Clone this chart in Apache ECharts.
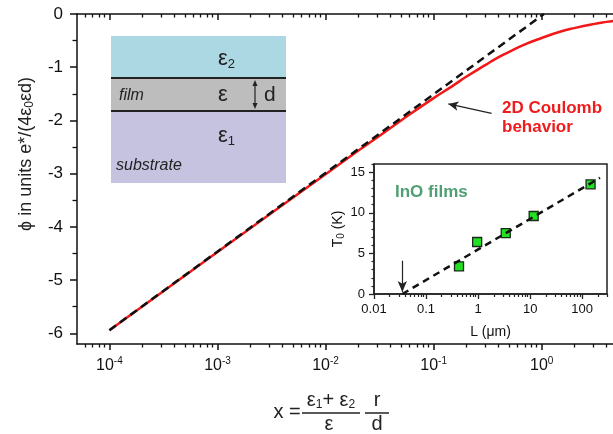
<!DOCTYPE html>
<html><head><meta charset="utf-8">
<script src="https://cdn.jsdelivr.net/npm/echarts@6/dist/echarts.min.js"></script>
<style>html,body{margin:0;padding:0;background:#fff}#c{width:613px;height:434px}</style>
</head><body><div id="c"></div>
<script>
// ---- main chart data ----
const xRed = [1e-4, 1e-3, 1e-2, 0.02, 0.03, 0.05, 0.1, 0.15, 0.2, 0.3, 0.4, 0.5, 0.7, 1, 1.5, 2, 3, 4, 5];
const phiRed = [-5.94, -4.47, -3.01, -2.57, -2.32, -2.00, -1.58, -1.35, -1.18, -0.96, -0.81, -0.71, -0.57, -0.45, -0.33, -0.265, -0.19, -0.148, -0.12];
const xDash = [1e-4, 1.05];
const phiDash = [-5.94, 0];
const mainXTickExps = [-4, -3, -2, -1, 0];
const mainYTicks = [-6, -5, -4, -3, -2, -1, 0];
const mainYMinor = [-5.5, -4.5, -3.5, -2.5, -1.5, -0.5];
// ---- inset data ----
const insetL = [0.43, 0.96, 3.4, 11.7, 145];
const insetT = [3.4, 6.4, 7.5, 9.6, 13.5];
const fitL = [0.035, 220];
const fitT = [0, 14.3];
const insetXTickExps = [-2, -1, 0, 1, 2];
const insetXTickLabels = ['0.01', '0.1', '1', '10', '100'];
const insetYTicks = [0, 5, 10, 15];
const insetYMinor = [1, 2, 3, 4, 6, 7, 8, 9, 11, 12, 13, 14, 16];

const L10 = Math.log10;
function logMinor(lo, hi) {
  const out = [];
  for (let d = Math.floor(lo); d <= Math.ceil(hi); d++) {
    for (let m = 2; m <= 9; m++) {
      const v = d + L10(m);
      if (v >= lo && v <= hi) out.push(v);
    }
  }
  return out;
}
const FONT = 'Liberation Sans, Arial, sans-serif';
const MX = [-4.3, 0.66];
const IX = [-2, L10(300)];

const chart = echarts.init(document.getElementById('c'), null, {renderer: 'canvas'});

function hiddenAxis(extra) {
  return Object.assign({
    type: 'value', axisLine: {show: false, onZero: false}, axisLabel: {show: false},
    splitLine: {show: false}
  }, extra);
}

const option = {
  animation: false,
  backgroundColor: '#fff',
  grid: [
    {left: 77, top: 14, right: 0, bottom: 90, show: false},
    {left: 374, top: 164, right: 6, bottom: 140, show: true, backgroundColor: '#fff', borderColor: '#222', borderWidth: 1.5}
  ],
  xAxis: [
    {type: 'value', gridIndex: 0, position: 'bottom', min: MX[0], max: MX[1],
     axisLine: {onZero: false, lineStyle: {color: '#111', width: 1.5}},
     axisTick: {customValues: mainXTickExps, length: 6, lineStyle: {color: '#111', width: 1.5}},
     axisLabel: {customValues: mainXTickExps, margin: 12, color: '#111', fontFamily: FONT,
       formatter: v => '{b|10}{s|' + Math.round(v) + '}',
       rich: {b: {fontSize: 16, fontFamily: FONT, color: '#111'},
              s: {fontSize: 10, fontFamily: FONT, color: '#111', padding: [0, 0, 10, 0]}}},
     splitLine: {show: false}},
    hiddenAxis({gridIndex: 0, position: 'bottom', min: MX[0], max: MX[1],
     axisTick: {customValues: logMinor(MX[0], MX[1]), length: 3.5, lineStyle: {color: '#111', width: 1.3}}}),
    {type: 'value', gridIndex: 0, position: 'top', min: MX[0], max: MX[1],
     axisLine: {onZero: false, lineStyle: {color: '#111', width: 1.5}},
     axisTick: {inside: true, customValues: mainXTickExps, length: 6, lineStyle: {color: '#111', width: 1.5}},
     axisLabel: {show: false}, splitLine: {show: false}},
    hiddenAxis({gridIndex: 0, position: 'top', min: MX[0], max: MX[1],
     axisTick: {inside: true, customValues: logMinor(MX[0], MX[1]), length: 3.5, lineStyle: {color: '#111', width: 1.3}}}),
    // inset
    {type: 'value', gridIndex: 1, position: 'bottom', min: IX[0], max: IX[1],
     axisLine: {onZero: false, lineStyle: {color: '#222', width: 1.5}},
     axisTick: {customValues: insetXTickExps, length: 5, lineStyle: {color: '#222', width: 1.3}},
     axisLabel: {customValues: insetXTickExps, margin: 9, color: '#111', fontSize: 13, fontFamily: FONT,
       formatter: v => insetXTickLabels[insetXTickExps.indexOf(Math.round(v))]},
     name: 'L (μm)', nameLocation: 'middle', nameGap: 31,
     nameTextStyle: {fontSize: 14, fontFamily: FONT, color: '#111'},
     splitLine: {show: false}},
    hiddenAxis({gridIndex: 1, position: 'bottom', min: IX[0], max: IX[1],
     axisTick: {customValues: logMinor(IX[0], IX[1]), length: 3, lineStyle: {color: '#222', width: 1.2}}})
  ],
  yAxis: [
    {type: 'value', gridIndex: 0, position: 'left', min: -6.2, max: 0,
     axisLine: {show: true, onZero: false, lineStyle: {color: '#111', width: 1.5}},
     axisTick: {show: true, customValues: mainYTicks, length: 7, lineStyle: {color: '#111', width: 1.5}},
     axisLabel: {customValues: mainYTicks, margin: 14, fontSize: 17, color: '#111', fontFamily: FONT},
     splitLine: {show: false}},
    hiddenAxis({gridIndex: 0, position: 'left', min: -6.2, max: 0,
     axisTick: {show: true, customValues: mainYMinor, length: 4.5, lineStyle: {color: '#111', width: 1.3}}}),
    {type: 'value', gridIndex: 1, position: 'left', min: 0, max: 16,
     axisLine: {show: true, onZero: false, lineStyle: {color: '#222', width: 1.5}},
     axisTick: {show: true, customValues: insetYTicks, length: 5, lineStyle: {color: '#222', width: 1.3}},
     axisLabel: {customValues: insetYTicks, margin: 9, fontSize: 13, color: '#111', fontFamily: FONT},
     name: '{a|T}{s|0}{a| (K)}', nameLocation: 'middle', nameGap: 21, nameRotate: 90,
     nameTextStyle: {rich: {a: {fontSize: 14, fontFamily: FONT, color: '#111'},
                            s: {fontSize: 10, fontFamily: FONT, color: '#111', padding: [6, 0, 0, 0]}}},
     splitLine: {show: false}},
    hiddenAxis({gridIndex: 1, position: 'left', min: 0, max: 16,
     axisTick: {show: true, customValues: insetYMinor, length: 2.5, lineStyle: {color: '#222', width: 1.2}}})
  ],
  series: [
    {type: 'line', xAxisIndex: 0, yAxisIndex: 0, smooth: true, showSymbol: false, clip: true,
     data: xRed.map((x, i) => [L10(x), phiRed[i]]),
     lineStyle: {color: '#f21818', width: 2.5}, z: 2,
     markLine: {silent: true, symbol: ['none', 'arrow'], symbolSize: [7, 10], animation: false,
       label: {show: false}, lineStyle: {color: '#222', width: 1.2, type: 'solid'},
       data: [[{coord: [L10(0.344), -1.867]}, {coord: [L10(0.137), -1.69]}]]}},
    {type: 'line', xAxisIndex: 0, yAxisIndex: 0, showSymbol: false, clip: true,
     data: xDash.map((x, i) => [L10(x), phiDash[i]]),
     lineStyle: {color: '#111', width: 2.5, type: [8, 5]}, z: 3},
    {type: 'scatter', xAxisIndex: 4, yAxisIndex: 2, symbol: 'rect', symbolSize: 9,
     data: insetL.map((x, i) => [L10(x), insetT[i]]),
     itemStyle: {color: '#22e022', borderColor: '#1a2a1a', borderWidth: 1.3, opacity: 1}, z: 4},
    {type: 'line', xAxisIndex: 4, yAxisIndex: 2, showSymbol: false,
     data: fitL.map((x, i) => [L10(x), fitT[i]]),
     lineStyle: {color: '#111', width: 2.5, type: [7, 5]}, z: 5,
     markLine: {silent: true, symbol: ['none', 'arrow'], symbolSize: [7, 11], animation: false,
       label: {show: false}, lineStyle: {color: '#222', width: 1.2, type: 'solid'},
       data: [[{coord: [L10(0.035), 4.1]}, {coord: [L10(0.035), 0.25]}]]}}
  ],
  graphic: [
    // layered-film diagram
    {type: 'rect', shape: {x: 111, y: 36, width: 175, height: 42}, style: {fill: '#acd8e4'}, z: 1},
    {type: 'rect', shape: {x: 111, y: 78, width: 175, height: 33}, style: {fill: '#bdbdbd'}, z: 1},
    {type: 'rect', shape: {x: 111, y: 111, width: 175, height: 72}, style: {fill: '#c6c3e1'}, z: 1},
    {type: 'line', shape: {x1: 111, y1: 78, x2: 286, y2: 78}, style: {stroke: '#222', lineWidth: 2}, z: 2},
    {type: 'line', shape: {x1: 111, y1: 111, x2: 286, y2: 111}, style: {stroke: '#222', lineWidth: 2}, z: 2},
    {type: 'line', shape: {x1: 255, y1: 83, x2: 255, y2: 106}, style: {stroke: '#222', lineWidth: 1.2}, z: 2},
    {type: 'polygon', shape: {points: [[255, 80], [252.5, 86], [257.5, 86]]}, style: {fill: '#222'}, z: 2},
    {type: 'polygon', shape: {points: [[255, 109], [252.5, 103], [257.5, 103]]}, style: {fill: '#222'}, z: 2},
    {type: 'text', x: 218, y: 59, z: 3, style: {text: '{e|ε}{s|2}', verticalAlign: 'middle',
      rich: {e: {fontSize: 22, fontFamily: FONT, fill: '#222'}, s: {fontSize: 13, fontFamily: FONT, fill: '#222', padding: [10, 0, 0, 0]}}}},
    {type: 'text', x: 218, y: 95, z: 3, style: {text: 'ε', fontSize: 22, fontFamily: FONT, fill: '#222', verticalAlign: 'middle'}},
    {type: 'text', x: 264, y: 95, z: 3, style: {text: 'd', fontSize: 21, fontFamily: FONT, fill: '#222', verticalAlign: 'middle'}},
    {type: 'text', x: 119, y: 96, z: 3, style: {text: 'film', fontSize: 16, fontStyle: 'italic', fontFamily: FONT, fill: '#222', verticalAlign: 'middle'}},
    {type: 'text', x: 218, y: 136, z: 3, style: {text: '{e|ε}{s|1}', verticalAlign: 'middle',
      rich: {e: {fontSize: 22, fontFamily: FONT, fill: '#222'}, s: {fontSize: 13, fontFamily: FONT, fill: '#222', padding: [10, 0, 0, 0]}}}},
    {type: 'text', x: 116, y: 166, z: 3, style: {text: 'substrate', fontSize: 16, fontStyle: 'italic', fontFamily: FONT, fill: '#222', verticalAlign: 'middle'}},
    // annotations
    {type: 'text', x: 502, y: 99, z: 10, style: {text: '2D Coulomb\nbehavior', fontSize: 17, fontWeight: 'bold', fontFamily: FONT, fill: '#ee1c1c', lineHeight: 19}},
    {type: 'text', x: 395, y: 192, z: 10, style: {text: 'InO films', fontSize: 17, fontWeight: 'bold', fontFamily: FONT, fill: '#4f9f72', verticalAlign: 'middle'}},
    // y-axis title
    {type: 'text', x: 26, y: 154, rotation: Math.PI / 2, z: 10, style: {
      text: '{a|ϕ in units e*/(4ε}{s|0}{a|εd)}', align: 'center', verticalAlign: 'middle',
      rich: {a: {fontSize: 18, fontFamily: FONT, fill: '#222'}, s: {fontSize: 12, fontFamily: FONT, fill: '#222', padding: [8, 0, 0, 0]}}}},
    // x-axis title
    {type: 'text', x: 287, y: 412, z: 10, style: {text: 'x =', fontSize: 20, fontFamily: FONT, fill: '#222', align: 'center', verticalAlign: 'middle'}},
    {type: 'text', x: 331, y: 400, z: 10, style: {text: '{e|ε}{s|1}{e|+ ε}{s|2}', align: 'center', verticalAlign: 'middle',
      rich: {e: {fontSize: 20, fontFamily: FONT, fill: '#222'}, s: {fontSize: 12, fontFamily: FONT, fill: '#222', padding: [9, 0, 0, 0]}}}},
    {type: 'line', shape: {x1: 302, y1: 413, x2: 360, y2: 413}, style: {stroke: '#222', lineWidth: 1.5}, z: 10},
    {type: 'text', x: 329, y: 424, z: 10, style: {text: 'ε', fontSize: 20, fontFamily: FONT, fill: '#222', align: 'center', verticalAlign: 'middle'}},
    {type: 'text', x: 377, y: 400, z: 10, style: {text: 'r', fontSize: 20, fontFamily: FONT, fill: '#222', align: 'center', verticalAlign: 'middle'}},
    {type: 'line', shape: {x1: 365, y1: 413, x2: 389, y2: 413}, style: {stroke: '#222', lineWidth: 1.5}, z: 10},
    {type: 'text', x: 377, y: 424, z: 10, style: {text: 'd', fontSize: 20, fontFamily: FONT, fill: '#222', align: 'center', verticalAlign: 'middle'}}
  ]
};
chart.setOption(option);
</script>
</body></html>
